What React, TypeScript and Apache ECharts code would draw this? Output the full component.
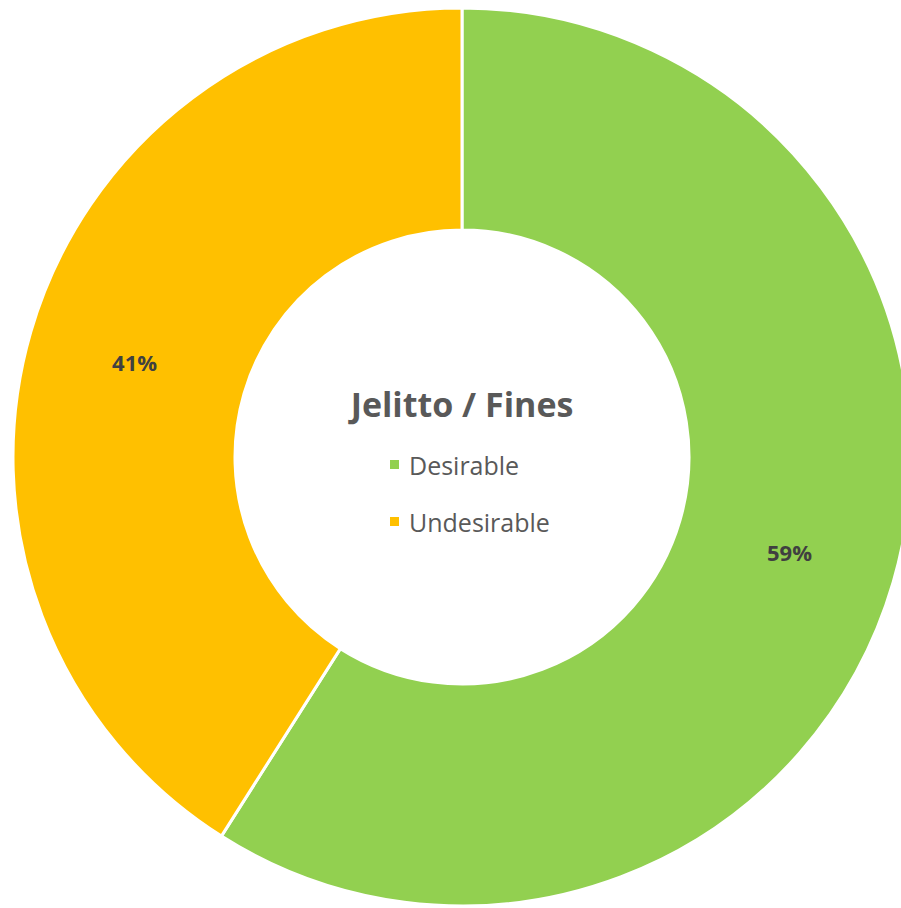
import React, { useEffect, useRef } from "react";
import * as echarts from "echarts";

const categories = ["Desirable", "Undesirable"];
const values = [59, 41];
const colors = ["#92D050", "#FFC000"];
const chartTitle = "Jelitto / Fines";

export default function App() {
  const ref = useRef<HTMLDivElement>(null);
  useEffect(() => {
    if (!ref.current) return;
    const chart = echarts.init(ref.current, null, { renderer: "svg" });
    const font = "'Open Sans', 'Liberation Sans', sans-serif";
    chart.setOption({
      animation: false,
      color: colors,
      title: {
        text: chartTitle,
        left: 457,
        top: 382,
        textAlign: "center",
        textStyle: { fontFamily: font, fontSize: 34, fontWeight: "bold", color: "#595959" },
      },
      legend: {
        orient: "vertical",
        left: 383,
        top: 447,
        icon: "rect",
        itemWidth: 11,
        itemHeight: 11,
        itemGap: 32,
        textStyle: { fontFamily: font, fontSize: 25, color: "#595959", padding: [0, 0, 0, 4] },
        data: categories,
      },
      series: [
        {
          type: "pie",
          center: [462, 457],
          radius: [227, 449],
          startAngle: 90,
          clockwise: true,
          avoidLabelOverlap: false,
          itemStyle: { borderColor: "#ffffff", borderWidth: 3 },
          label: {
            show: true,
            position: "inside",
            formatter: "{d}%",
            fontFamily: font,
            fontSize: 22,
            fontWeight: "bold",
            color: "#404040",
          },
          labelLine: { show: false },
          emphasis: { disabled: true },
          data: categories.map((c, i) => ({ name: c, value: values[i] })),
        },
      ],
    });
    return () => chart.dispose();
  }, []);
  return (
    <div
      ref={ref}
      style={{ position: "fixed", left: 0, top: 0, width: 901, height: 908, background: "#fff" }}
    />
  );
}
